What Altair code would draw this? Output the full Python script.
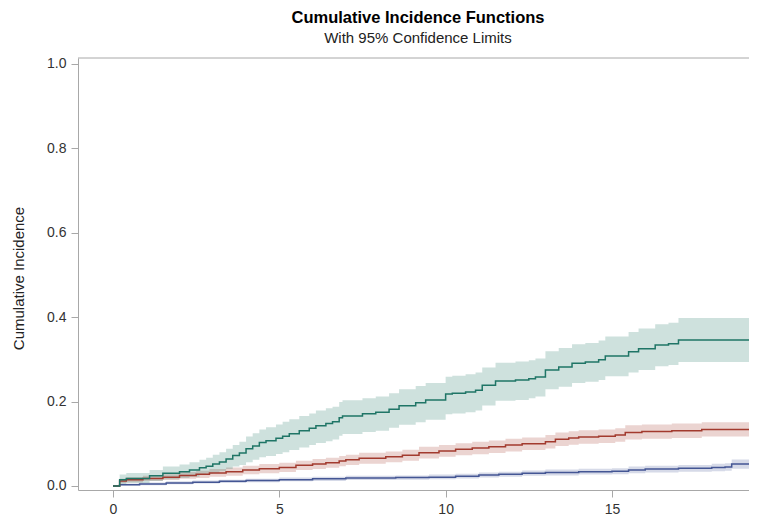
import altair as alt
import pandas as pd

# ---- data ----
green_t = [0, 0.2, 0.4, 1.1, 1.5, 2.0, 2.3, 2.6, 2.8, 3.0, 3.2, 3.4, 3.6, 3.8, 4.0, 4.2, 4.4, 4.6, 4.9, 5.1,
           5.3, 5.6, 5.9, 6.1, 6.4, 6.6, 6.8, 6.9, 7.5, 7.9, 8.3, 8.6, 9.1, 9.4, 10.0, 10.2, 10.6, 10.9, 11.1,
           11.5, 12.1, 12.5, 12.7, 13.0, 13.4, 13.8, 14.2, 14.6, 14.8, 15.5, 15.8, 16.3, 16.7, 17.0, 19.12]
green_est = [0, 0.015, 0.018, 0.024, 0.030, 0.034, 0.038, 0.043, 0.047, 0.052, 0.057, 0.064, 0.072, 0.078, 0.088,
             0.095, 0.103, 0.107, 0.113, 0.118, 0.124, 0.131, 0.137, 0.143, 0.148, 0.152, 0.162, 0.166, 0.171,
             0.175, 0.182, 0.190, 0.197, 0.204, 0.218, 0.220, 0.223, 0.227, 0.239, 0.249, 0.251, 0.254, 0.258,
             0.275, 0.282, 0.291, 0.294, 0.299, 0.308, 0.318, 0.325, 0.334, 0.337, 0.346, 0.346]
green_lo = [0, 0.005, 0.007, 0.012, 0.016, 0.019, 0.022, 0.026, 0.029, 0.031, 0.035, 0.040, 0.046, 0.050, 0.056,
            0.062, 0.068, 0.071, 0.076, 0.080, 0.085, 0.091, 0.097, 0.102, 0.106, 0.110, 0.119, 0.123, 0.128,
            0.131, 0.138, 0.145, 0.151, 0.157, 0.170, 0.172, 0.175, 0.179, 0.191, 0.202, 0.204, 0.208, 0.212,
            0.229, 0.235, 0.244, 0.247, 0.251, 0.260, 0.269, 0.275, 0.284, 0.287, 0.294, 0.294]
green_hi = [0, 0.027, 0.031, 0.038, 0.046, 0.051, 0.056, 0.062, 0.067, 0.074, 0.080, 0.088, 0.097, 0.105, 0.117,
            0.125, 0.134, 0.139, 0.146, 0.152, 0.158, 0.166, 0.172, 0.179, 0.184, 0.188, 0.199, 0.203, 0.208,
            0.212, 0.220, 0.229, 0.237, 0.244, 0.259, 0.261, 0.265, 0.269, 0.281, 0.292, 0.295, 0.298, 0.302,
            0.319, 0.327, 0.336, 0.339, 0.345, 0.354, 0.365, 0.373, 0.383, 0.387, 0.398, 0.398]

red_t = [0, 0.2, 0.4, 0.9, 1.5, 2.0, 2.5, 2.9, 3.4, 3.9, 4.4, 5.0, 5.5, 6.0, 6.4, 6.8, 7.0, 7.4, 8.2, 8.7, 9.2,
         9.8, 10.3, 10.8, 11.3, 11.8, 12.3, 13.0, 13.3, 13.7, 14.0, 14.6, 15.1, 15.4, 15.9, 16.8, 17.7, 19.12]
red_est = [0, 0.012, 0.015, 0.018, 0.021, 0.025, 0.028, 0.031, 0.034, 0.038, 0.041, 0.044, 0.049, 0.052, 0.055,
           0.059, 0.062, 0.066, 0.069, 0.073, 0.079, 0.083, 0.087, 0.090, 0.093, 0.097, 0.100, 0.105, 0.111,
           0.114, 0.116, 0.118, 0.121, 0.127, 0.129, 0.131, 0.134, 0.134]
red_lo = [0, 0.007, 0.009, 0.012, 0.014, 0.017, 0.019, 0.022, 0.024, 0.028, 0.030, 0.033, 0.038, 0.040, 0.043,
          0.047, 0.050, 0.053, 0.056, 0.060, 0.065, 0.069, 0.073, 0.075, 0.078, 0.082, 0.085, 0.089, 0.095,
          0.098, 0.100, 0.102, 0.105, 0.110, 0.112, 0.114, 0.117, 0.117]
red_hi = [0, 0.017, 0.021, 0.024, 0.028, 0.033, 0.036, 0.040, 0.044, 0.048, 0.052, 0.055, 0.060, 0.064, 0.067,
          0.071, 0.074, 0.079, 0.082, 0.086, 0.093, 0.097, 0.101, 0.105, 0.108, 0.112, 0.115, 0.121, 0.127,
          0.130, 0.132, 0.134, 0.137, 0.144, 0.146, 0.148, 0.151, 0.151]

blue_t = [0, 0.2, 0.8, 1.6, 2.4, 3.2, 4.0, 5.0, 6.0, 7.0, 8.5, 9.5, 10.3, 11.0, 11.6, 12.3, 13.0, 14.0, 15.0,
          15.5, 16.0, 17.0, 18.0, 18.4, 18.6, 19.12]
blue_est = [0, 0.003, 0.005, 0.007, 0.009, 0.011, 0.013, 0.015, 0.017, 0.019, 0.020, 0.021, 0.023, 0.026, 0.028,
            0.030, 0.032, 0.034, 0.035, 0.038, 0.040, 0.042, 0.044, 0.045, 0.052, 0.052]
blue_lo = [0, 0.001, 0.002, 0.004, 0.006, 0.007, 0.009, 0.011, 0.012, 0.014, 0.015, 0.016, 0.018, 0.020, 0.022,
           0.024, 0.025, 0.027, 0.028, 0.030, 0.032, 0.034, 0.035, 0.036, 0.041, 0.041]
blue_hi = [0, 0.006, 0.008, 0.011, 0.013, 0.015, 0.017, 0.020, 0.022, 0.024, 0.025, 0.027, 0.029, 0.032, 0.034,
           0.037, 0.039, 0.041, 0.042, 0.046, 0.048, 0.050, 0.053, 0.054, 0.063, 0.063]

groups = ["1", "2", "3"]
line_colors = ["#445694", "#A23A2E", "#1f7566"]

x_ticks = [0, 5, 10, 15]
y_ticks = [0.0, 0.2, 0.4, 0.6, 0.8, 1.0]

rows = []
for g, ts, es, lo, hi in [("1", blue_t, blue_est, blue_lo, blue_hi),
                          ("2", red_t, red_est, red_lo, red_hi),
                          ("3", green_t, green_est, green_lo, green_hi)]:
    for t, e, l, h in zip(ts, es, lo, hi):
        rows.append({"group": g, "t": t, "est": e, "lo": l, "hi": h})
df = pd.DataFrame(rows)

W, H = 671, 432
xscale = alt.Scale(domain=[-1.052, 19.12], nice=False, zero=False)
yscale = alt.Scale(domain=[-0.0095, 1.0142], nice=False, zero=False)
cscale = alt.Scale(domain=groups, range=line_colors)

x_enc = alt.X("t:Q", scale=xscale,
              axis=alt.Axis(values=x_ticks, title=None, grid=False, format="d"))
y_axis = alt.Axis(values=y_ticks, format=".1f", grid=False, title="Cumulative Incidence",
                  titleX=-60, titleY=220, titleAngle=-90, titleAlign="center",
                  titleBaseline="middle")

base = alt.Chart(df)

bands = base.mark_area(interpolate="step-after", opacity=0.22, clip=True).encode(
    x=x_enc,
    y=alt.Y("lo:Q", scale=yscale, axis=y_axis),
    y2="hi:Q",
    color=alt.Color("group:N", scale=cscale, legend=None),
    detail="group:N",
)

lines = base.mark_line(interpolate="step-after", strokeWidth=1.5, clip=True).encode(
    x=x_enc,
    y=alt.Y("est:Q", scale=yscale),
    color=alt.Color("group:N", scale=cscale, legend=None),
)

top_border = alt.Chart(pd.DataFrame({"v": [0]})).mark_rule(color="#a8a8a8", strokeWidth=1).encode(
    x=alt.value(0), x2=alt.value(W), y=alt.value(0)
)

chart = alt.layer(bands, lines, top_border).properties(
    width=W, height=H,
    title=alt.TitleParams(
        text="Cumulative Incidence Functions",
        subtitle="With 95% Confidence Limits",
        anchor="middle", frame="group", dx=4.5,
        font="Liberation Sans", fontSize=16.5, fontWeight="bold", color="#000000",
        subtitleFont="Liberation Sans", subtitleFontSize=15, subtitleColor="#222222",
        subtitlePadding=4, offset=11,
    ),
    autosize=alt.AutoSizeParams(type="none"),
    padding={"left": 70, "top": 50, "right": 0, "bottom": 30},
).configure_view(stroke=None).configure_axis(
    domainColor="#a8a8a8", tickColor="#a8a8a8", tickSize=7,
    labelFont="Liberation Sans", labelFontSize=14, labelColor="#333333", labelPadding=5,
    titleFont="Liberation Sans", titleFontSize=15, titleColor="#222222", titleFontWeight="normal",
)

chart.save("out.html", embed_options={"renderer": "svg", "actions": False})
